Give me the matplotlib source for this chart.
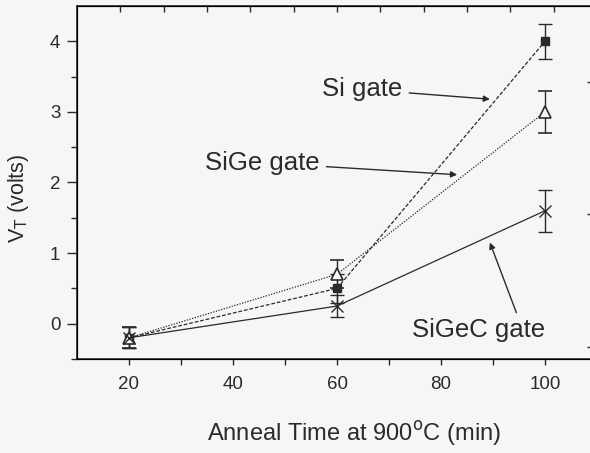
import numpy as np
import matplotlib
matplotlib.use('Agg')
import matplotlib.pyplot as plt

plt.rcParams['font.family'] = ['Liberation Sans', 'DejaVu Sans']

t = [20, 60, 100]
si = [-0.2, 0.5, 4.0]
si_err = [0.15, 0.2, 0.25]
sige = [-0.2, 0.7, 3.0]
sige_err = [0.15, 0.2, 0.3]
sigec = [-0.2, 0.25, 1.6]
sigec_err = [0.15, 0.15, 0.3]

bg = '#f6f6f4'
ink = '#2a2a2a'

fig = plt.figure(figsize=(5.9, 4.53), dpi=100, facecolor=bg)
ax = fig.add_axes([0.1305, 0.2075, 0.8814, 0.7793], facecolor=bg)

ax.errorbar(t, si, yerr=si_err, color=ink, ls=(0, (3, 1.5)), lw=0.9,
            marker='s', ms=6, mfc=ink, mec=ink, capsize=5, elinewidth=1.0, capthick=1.0)
ax.errorbar(t, sige, yerr=sige_err, color=ink, ls=(0, (1, 1.2)), lw=0.9,
            marker='^', ms=8, mfc=bg, mec=ink, mew=1.2, capsize=5, elinewidth=1.0, capthick=1.0)
ax.errorbar(t, sigec, yerr=sigec_err, color=ink, ls='-', lw=0.9,
            marker='x', ms=9, mec=ink, mew=1.0, capsize=5, elinewidth=1.0, capthick=1.0)

ax.set_xlim(10, 110)
ax.set_ylim(-0.5, 4.5)
ax.set_xticks([20, 40, 60, 80, 100])
ax.set_xticks([30, 50, 70, 90], minor=True)
ax.set_yticks([0, 1, 2, 3, 4])
ax.set_yticks([-0.5, 0.5, 1.5, 2.5, 3.5], minor=True)
ax.tick_params(which='major', direction='out', width=1, colors=ink,
               labelsize=13.5, top=False, right=False)
ax.tick_params(axis='y', which='major', length=7, pad=5)
ax.tick_params(axis='x', which='major', length=4, pad=8)
ax.tick_params(which='minor', direction='out', length=4, width=1, colors=ink,
               top=False, right=False)
for s in ax.spines.values():
    s.set_color(ink)
    s.set_linewidth(1.2)

ax.set_xlabel('Anneal Time at 900$^{\\rm o}$C (min)', fontsize=17, color=ink)
ax.xaxis.set_label_coords(0.533, -0.17)
ax.set_ylabel('V$_{\\rm T}$ (volts)', fontsize=15.5, color=ink)
ax.yaxis.set_label_coords(-0.088, 0.456)

# ticks of the neighbouring frame edges
top = ax.twiny()
top.set_xlim(0, 12)
top.set_xticks(np.arange(1, 12))
top.tick_params(direction='in', length=4, width=1, colors=ink, labeltop=False)
right = ax.twinx()
right.set_ylim(-0.5, 4.5)
right.set_yticks([-0.33, 1.55, 3.42])
right.tick_params(direction='in', length=7, width=1, colors=ink, labelright=False)

arrow = dict(arrowstyle='-|>', color=ink, lw=1.0, mutation_scale=9, shrinkA=3, shrinkB=0)
ax.annotate('Si gate', xy=(89.4, 3.18), xytext=(57.1, 3.32), fontsize=18.5, color=ink,
            va='center', ha='left', arrowprops=arrow)
ax.annotate('SiGe gate', xy=(83.1, 2.11), xytext=(34.6, 2.28), fontsize=18.5, color=ink,
            va='center', ha='left', arrowprops=arrow)
ax.annotate('SiGeC gate', xy=(89.4, 1.15), xytext=(74.4, -0.09), fontsize=18.5, color=ink,
            va='center', ha='left',
            arrowprops=dict(arrowstyle='-|>', color=ink, lw=1.0, mutation_scale=9,
                            shrinkA=2, shrinkB=0, relpos=(0.8, 1.0)))

fig.savefig('out.png', dpi=100, facecolor=bg)
